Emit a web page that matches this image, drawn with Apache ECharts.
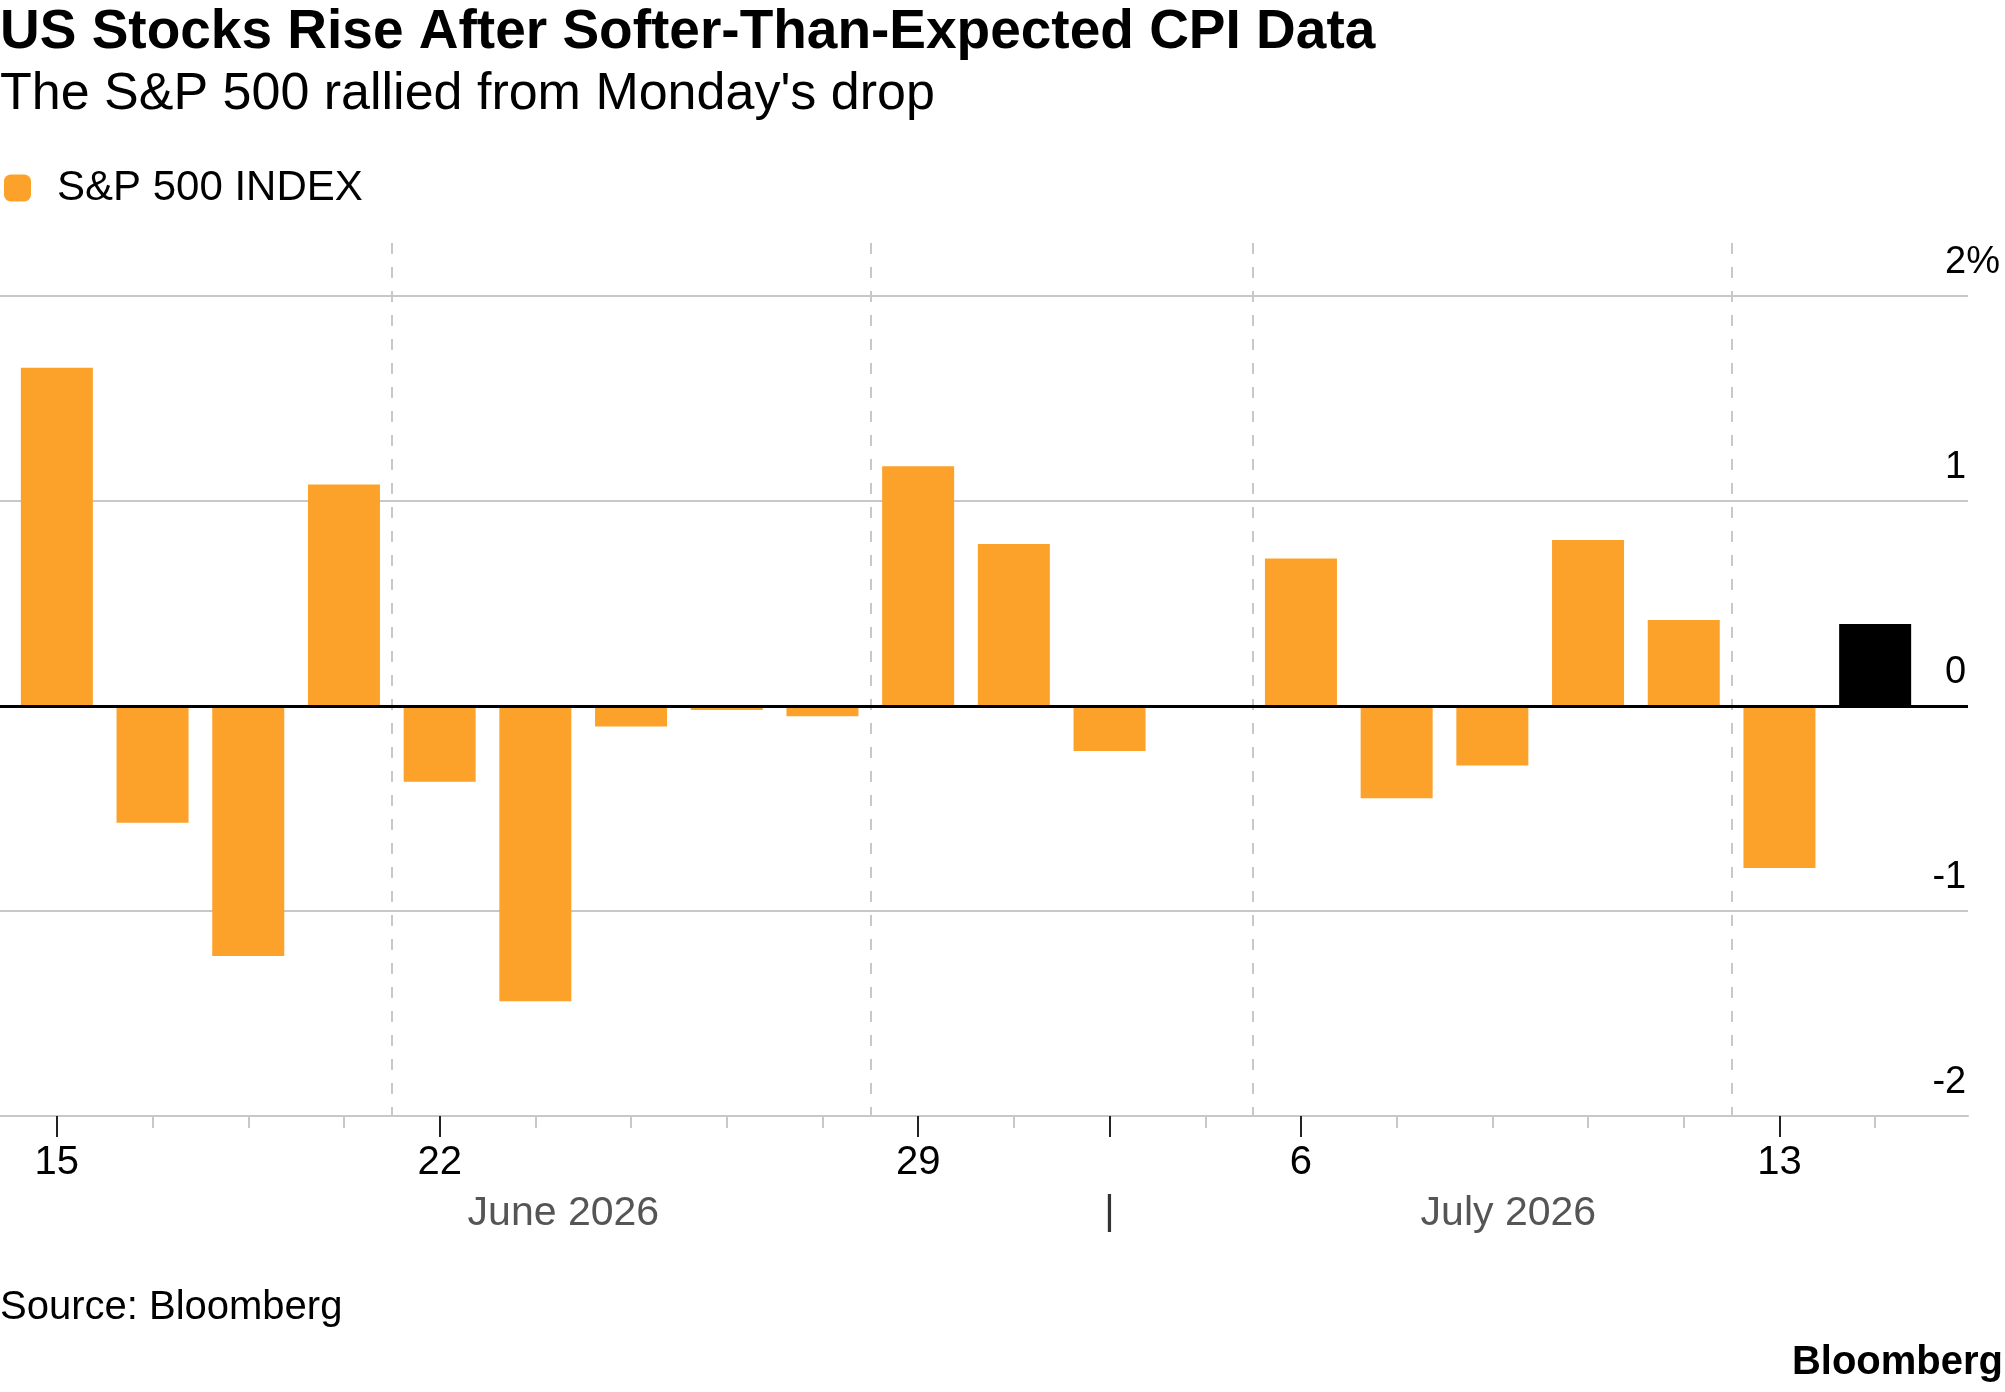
<!DOCTYPE html>
<html>
<head>
<meta charset="utf-8">
<script src="https://cdn.jsdelivr.net/npm/echarts@6/dist/echarts.min.js"></script>
<style>
  html, body { margin: 0; padding: 0; background: #fff; }
  #chart { width: 2005px; height: 1392px; }
</style>
</head>
<body>
<div id="chart"></div>
<script>
// trading days, 15 June - 14 July 2026
const days = ['15', '16', '17', '18', '22', '23', '24', '25', '26', '29', '30', '1', '2', '6', '7', '8', '9', '10', '13', '14']
// daily % change of the S&P 500 (Jul 2 has no bar)
const changes = [1.65, -0.57, -1.22, 1.08, -0.37, -1.44, -0.1, -0.02, -0.05, 1.17, 0.79, -0.22, null, 0.72, -0.45, -0.29, 0.81, 0.42, -0.79, 0.4]
const dayLabelIdx = [0, 4, 9, 13, 18]   // 15, 22, 29, 6, 13
const weekStartIdx = [4, 9, 13, 18]     // dashed week separators
const monthStartIdx = 11                // Jul 1
const monthNames = ['June 2026', 'July 2026']
const monthLabelIdx = [5, 15]
const yMin = -2
const yMax = 2

const seriesName = 'S&P 500 INDEX'
const orange = '#FCA12A'
const font = '"Liberation Sans", Arial, sans-serif'

const chart = echarts.init(document.getElementById('chart'))

const option = {
  animation: false,
  backgroundColor: '#fff',
  textStyle: { fontFamily: font },
  title: [
    {
      text: 'US Stocks Rise After Softer-Than-Expected CPI Data',
      left: 0, top: 5, padding: 0,
      textStyle: { fontSize: 55, fontWeight: 'bold', color: '#000', fontFamily: font }
    },
    {
      text: "The S&P 500 rallied from Monday's drop",
      left: 0, top: 69, padding: 0,
      textStyle: { fontSize: 52, fontWeight: 'normal', color: '#000', fontFamily: font }
    },
    {
      text: 'Source: Bloomberg',
      left: 0, top: 1288, padding: 0,
      textStyle: { fontSize: 40, fontWeight: 'normal', color: '#000', fontFamily: font }
    },
    {
      text: 'Bloomberg',
      right: 2, top: 1343, padding: 0,
      textStyle: { fontSize: 40, fontWeight: 'bold', color: '#000', fontFamily: font }
    }
  ],
  legend: {
    left: 4,
    top: 167,
    padding: 0,
    icon: 'roundRect',
    itemWidth: 27,
    itemHeight: 27,
    selectedMode: false,
    textStyle: { fontSize: 42, color: '#000', fontFamily: font, padding: [0, 0, 0, 21] },
    data: [{ name: seriesName, itemStyle: { color: orange } }]
  },
  grid: [
    // bars + ticks + week separators
    { left: 9, right: 82, top: 243, bottom: 276, outerBoundsMode: 'none' },
    // gridlines, y labels, base axis line
    { left: 0, right: 37, top: 296, bottom: 276, outerBoundsMode: 'none' }
  ],
  xAxis: [
    {
      type: 'category',
      gridIndex: 0,
      data: days,
      position: 'bottom',
      axisLine: { show: false, onZero: false },
      axisTick: {
        show: true, alignWithLabel: true, interval: 0, length: 12,
        lineStyle: { color: '#c8c8c8', width: 2 }
      },
      axisLabel: { show: false },
      splitLine: {
        show: true,
        showMinLine: true,
        showMaxLine: false,
        interval: (i) => weekStartIdx.includes(i),
        lineStyle: { color: '#c8c8c8', width: 2, type: [11, 13] }
      }
    },
    {
      type: 'category',
      gridIndex: 0,
      data: days,
      position: 'bottom',
      axisLine: { show: false, onZero: false },
      axisTick: {
        show: true, alignWithLabel: true, length: 21,
        interval: (i) => dayLabelIdx.includes(i) || i === monthStartIdx,
        lineStyle: { color: '#222', width: 2 }
      },
      axisLabel: {
        interval: (i) => dayLabelIdx.includes(i),
        margin: 27,
        fontSize: 40,
        color: '#000',
        fontFamily: font
      },
      splitLine: { show: false }
    },
    {
      type: 'category',
      gridIndex: 0,
      data: days,
      position: 'bottom',
      axisLine: { show: false, onZero: false },
      axisTick: { show: false },
      axisLabel: {
        interval: (i) => monthLabelIdx.includes(i) || i === monthStartIdx,
        margin: 77,
        formatter: (v, i) => {
          const k = monthLabelIdx.indexOf(i)
          if (k === 0) return '{jun|' + monthNames[0] + '}'
          if (k === 1) return '{jul|' + monthNames[1] + '}'
          return '{sep||}'
        },
        rich: {
          jun: { fontSize: 41, color: '#555', fontFamily: font, padding: [0, 0, 0, 56] },
          jul: { fontSize: 41, color: '#555', fontFamily: font, padding: [0, 0, 0, 32] },
          sep: { fontSize: 40, color: '#333', fontFamily: font }
        }
      },
      splitLine: { show: false }
    },
    {
      type: 'category',
      gridIndex: 1,
      data: days,
      position: 'bottom',
      axisLine: { show: true, onZero: false, lineStyle: { color: '#c8c8c8', width: 2 } },
      axisTick: { show: false },
      axisLabel: { show: false },
      splitLine: { show: false }
    }
  ],
  yAxis: [
    {
      type: 'value',
      gridIndex: 0,
      min: yMin,
      max: yMin + (1116 - 243) / 205,
      show: false,
      splitLine: { show: false }
    },
    {
      type: 'value',
      gridIndex: 1,
      position: 'right',
      min: yMin,
      max: yMax,
      interval: 1,
      axisLine: { show: false },
      axisTick: { show: false },
      axisLabel: {
        align: 'right',
        verticalAlign: 'bottom',
        margin: 32,
        padding: [0, 0, 14, 0],
        fontSize: 38,
        color: '#000',
        fontFamily: font,
        // keep the numbers aligned on the gridline end, the % hangs past it
        formatter: (v) => v === yMax ? v + '%' : v + '{ghost|%}',
        rich: { ghost: { fontSize: 38, color: 'rgba(0,0,0,0)', fontFamily: font } }
      },
      splitLine: { show: true, lineStyle: { color: '#c8c8c8', width: 2 } }
    }
  ],
  series: [
    {
      name: seriesName,
      type: 'bar',
      xAxisIndex: 0,
      yAxisIndex: 0,
      barWidth: 72,
      data: changes,
      itemStyle: {
        color: (p) => p.dataIndex === changes.length - 1 ? '#000' : orange
      },
      z: 3
    },
    {
      // zero line across the full plot width
      name: 'zero',
      type: 'line',
      xAxisIndex: 3,
      yAxisIndex: 1,
      data: [],
      silent: true,
      z: 4,
      markLine: {
        silent: true,
        symbol: 'none',
        label: { show: false },
        lineStyle: { color: '#000', width: 3, type: 'solid' },
        data: [{ yAxis: 0 }]
      }
    }
  ]
}

chart.setOption(option)
window.addEventListener('resize', () => chart.resize())
</script>
</body>
</html>
